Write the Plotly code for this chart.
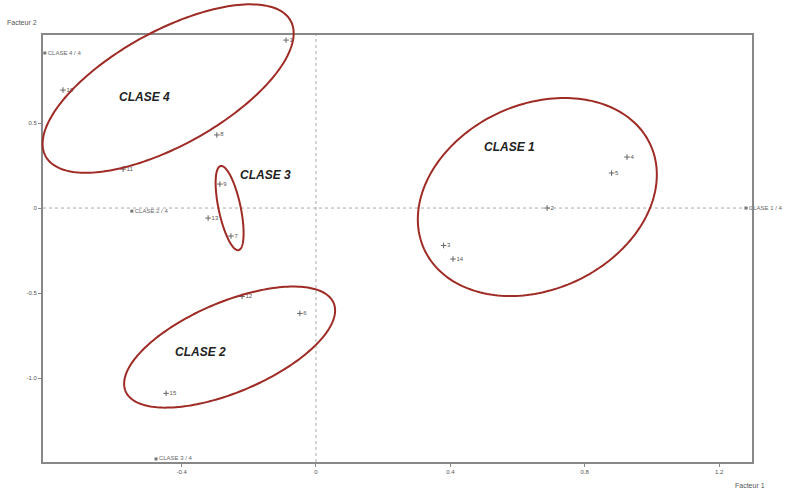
import numpy as np
import plotly.graph_objects as go

# --- data ---
point_labels = ["1", "10", "8", "11", "9", "13", "7", "12", "6", "15", "4", "5", "2", "3", "14"]
point_x = [-0.089, -0.753, -0.295, -0.574, -0.286, -0.321, -0.253, -0.220, -0.048, -0.446, 0.926, 0.880, 0.688, 0.380, 0.408]
point_y = [0.988, 0.694, 0.430, 0.229, 0.141, -0.059, -0.165, -0.520, -0.620, -1.090, 0.300, 0.206, 0.000, -0.220, -0.300]

centroid_labels = ["CLASE 1 / 4", "CLASE 2 / 4", "CLASE 3 / 4", "CLASE 4 / 4"]
centroid_x = [1.280, -0.548, -0.476, -0.807]
centroid_y = [0.000, -0.018, -1.476, 0.912]

class_names = ["CLASE 1", "CLASE 2", "CLASE 3", "CLASE 4"]
class_label_x = [0.577, -0.345, -0.150, -0.509]
class_label_y = [0.359, -0.847, 0.194, 0.653]

# ellipse centres (data units), semi-axes (screen px) and tilt (deg)
ell_cx = [0.659, -0.257, -0.257, -0.440]
ell_cy = [0.065, -0.818, 0.000, 0.703]
ell_a = [124.6, 113.0, 43.0, 140.0]
ell_b = [92.5, 45.0, 11.0, 57.0]
ell_ang = [25.0, 23.0, 102.0, 29.0]

x_ticks = [-0.4, 0, 0.4, 0.8, 1.2]
x_tick_text = ["-0.4", "0", "0.4", "0.8", "1.2"]
y_ticks = [-1.0, -0.5, 0, 0.5]
y_tick_text = ["-1.0", "-0.5", "0", "0.5"]

X_RANGE = [-0.8125, 1.298]
Y_RANGE = [-1.494, 1.018]
W, H = 787, 493
ML, MR, MT, MB = 43, 35, 35, 31

PW = W - ML - MR
PH = H - MT - MB
px_x = PW / (X_RANGE[1] - X_RANGE[0])
px_y = PH / (Y_RANGE[1] - Y_RANGE[0])


def to_paper_x(v):
    return (v - X_RANGE[0]) / (X_RANGE[1] - X_RANGE[0])


def to_paper_y(v):
    return (v - Y_RANGE[0]) / (Y_RANGE[1] - Y_RANGE[0])


fig = go.Figure()

RED = "#9e2b25"
t = np.linspace(0, 2 * np.pi, 200)
for cx, cy, a, b, ang in zip(ell_cx, ell_cy, ell_a, ell_b, ell_ang):
    th = np.deg2rad(ang)
    dx = a * np.cos(t) * np.cos(th) - b * np.sin(t) * np.sin(th)
    dy = a * np.cos(t) * np.sin(th) + b * np.sin(t) * np.cos(th)
    xs = to_paper_x(cx + dx / px_x)
    ys = to_paper_y(cy + dy / px_y)
    path = "M " + " L ".join(f"{xx:.5f},{yy:.5f}" for xx, yy in zip(xs, ys)) + " Z"
    fig.add_shape(type="path", path=path, xref="paper", yref="paper",
                  line=dict(color=RED, width=2), layer="above")

fig.add_trace(go.Scatter(x=point_x, y=point_y, mode="markers+text", text=point_labels,
                         textposition="middle right",
                         textfont=dict(size=6, color="#555555", family="Arial"),
                         marker=dict(symbol="cross-thin", size=4, line=dict(color="#666666", width=1)),
                         showlegend=False, cliponaxis=False, hoverinfo="skip"))

fig.add_trace(go.Scatter(x=centroid_x, y=centroid_y, mode="markers+text", text=centroid_labels,
                         textposition="middle right",
                         textfont=dict(size=6, color="#666666", family="Arial"),
                         marker=dict(symbol="square", size=3, color="#777777"),
                         showlegend=False, cliponaxis=False, hoverinfo="skip"))

for name, lx, ly in zip(class_names, class_label_x, class_label_y):
    fig.add_annotation(x=lx, y=ly, text="<b><i>" + name + "</i></b>", showarrow=False,
                       font=dict(size=12, color="#222222", family="Arial"))

# dotted zero lines
fig.add_shape(type="line", x0=0, x1=0, y0=Y_RANGE[0], y1=Y_RANGE[1], xref="x", yref="y",
              line=dict(color="#aaaaaa", width=1, dash="dot"), layer="below")
fig.add_shape(type="line", x0=X_RANGE[0], x1=X_RANGE[1], y0=0, y1=0, xref="x", yref="y",
              line=dict(color="#aaaaaa", width=1, dash="dot"), layer="below")

fig.add_annotation(x=0, y=1, xref="paper", yref="paper", xshift=-38, yshift=13, text="Facteur 2",
                   showarrow=False, xanchor="left", yanchor="middle",
                   font=dict(size=7, color="#555555", family="Arial"))
fig.add_annotation(x=1, y=0, xref="paper", yref="paper", xshift=15, yshift=-23, text="Facteur 1",
                   showarrow=False, xanchor="right", yanchor="middle",
                   font=dict(size=7, color="#555555", family="Arial"))

fig.update_xaxes(range=X_RANGE, tickvals=x_ticks, ticktext=x_tick_text, showgrid=False, zeroline=False,
                 showline=True, linecolor="#888888", linewidth=2, mirror=True, ticks="outside",
                 ticklen=3, tickcolor="#888888", tickfont=dict(size=6, color="#555555", family="Arial"))
fig.update_yaxes(range=Y_RANGE, tickvals=y_ticks, ticktext=y_tick_text, showgrid=False, zeroline=False,
                 showline=True, linecolor="#888888", linewidth=2, mirror=True, ticks="outside",
                 ticklen=3, tickcolor="#888888", tickfont=dict(size=6, color="#555555", family="Arial"))

fig.update_layout(width=W, height=H, margin=dict(l=ML, r=MR, t=MT, b=MB, autoexpand=False),
                  plot_bgcolor="white", paper_bgcolor="white", hovermode=False)

fig.write_html("out.html", config={"displayModeBar": False},
               post_script="document.body.style.margin='0';document.body.style.overflow='hidden';")
